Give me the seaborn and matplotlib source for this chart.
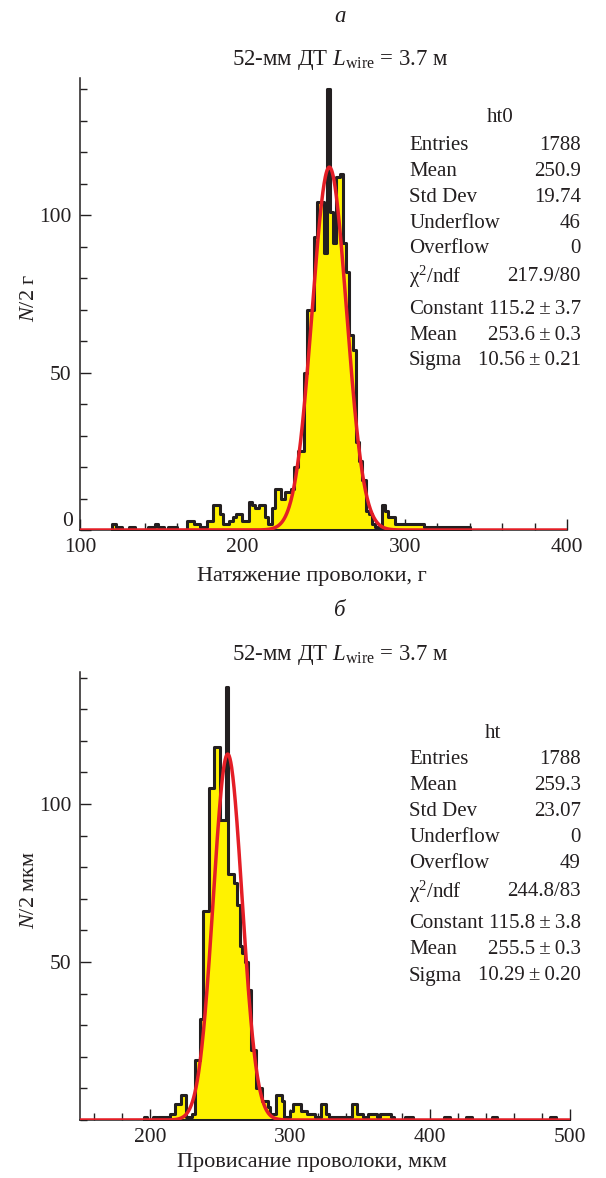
import numpy as np
import pandas as pd
import matplotlib
matplotlib.use("Agg")
import matplotlib.pyplot as plt
import seaborn as sns
from matplotlib.ticker import MultipleLocator, FixedLocator, FixedFormatter

# ---------------- data ----------------
bin_width = 2

top_start = 120
top_counts = [2, 1, 1, 0, 0, 1, 1, 0, 0, 0,
              0, 1, 1, 2, 1, 1, 0, 1, 1, 1,
              0, 0, 0, 3, 3, 2, 2, 1, 1, 3,
              3, 8, 8, 5, 2, 2, 3, 4, 5, 5,
              3, 3, 9, 8, 7, 8, 8, 4, 2, 7,
              13, 13, 10, 12, 12, 13, 20, 25, 25, 50,
              70, 70, 93, 104, 104, 88, 140, 101, 91, 112,
              113, 91, 82, 62, 57, 28, 22, 16, 6, 5,
              2, 1, 1, 8, 6, 4, 4, 2, 2, 2,
              2, 2, 2, 2, 2, 2, 1, 1, 1, 1,
              1, 1, 1, 1, 1, 1, 1, 1, 1, 1]

bot_start = 196
bot_counts = [1, 0, 0, 1, 0, 1, 1, 1, 1, 2,
              2, 5, 5, 8, 8, 1, 1, 2, 19, 19,
              32, 66, 66, 105, 105, 118, 118, 95, 95, 137,
              78, 78, 75, 68, 55, 53, 50, 41, 22, 22,
              10, 10, 6, 6, 4, 2, 2, 8, 8, 6,
              1, 1, 3, 5, 5, 5, 3, 3, 2, 2,
              2, 1, 1, 5, 5, 2, 1, 1, 1, 1,
              1, 1, 1, 1, 5, 5, 2, 2, 1, 0,
              2, 2, 2, 1, 2, 2, 2, 2, 1, 0,
              0, 0, 0, 1, 1, 1, 0, 0, 0, 0,
              0, 0, 0, 0, 0, 0, 0, 1, 1, 0,
              0, 0, 0, 0, 0, 1, 1, 0, 0, 0,
              0, 0, 0, 0, 1, 1, 0, 0, 0, 0,
              0, 0, 0, 0, 0, 0, 0, 0, 0, 0,
              0, 0, 0, 0, 0, 1, 1, 0, 0, 0,
              0, 0]

# Gaussian fit parameters (Constant, Mean, Sigma)
top_fit = [115.2, 253.6, 10.56]
bot_fit = [115.8, 255.5, 10.29]

stat_labels = ["Entries", "Mean", "Std Dev", "Underflow", "Overflow",
               "χ$^{2}$/ndf", "Constant", "Mean", "Sigma"]
top_stat_values = ["1788", "250.9", "19.74", "46", "0", "217.9/80",
                   "115.2\u2009±\u20093.7", "253.6\u2009±\u20090.3",
                   "10.56\u2009±\u20090.21"]
bot_stat_values = ["1788", "259.3", "23.07", "0", "49", "244.8/83",
                   "115.8\u2009±\u20093.8", "255.5\u2009±\u20090.3",
                   "10.29\u2009±\u20090.20"]

top_xticks = [100, 200, 300, 400]
bot_xticks = [200, 300, 400, 500]
top_yticks = [0, 50, 100]
top_yticklabels = ["", "50", "100"]
bot_yticks = [50, 100]
bot_yticklabels = ["50", "100"]

# ---------------- style ----------------
sns.set_style("ticks")
plt.rcParams["font.family"] = ["Liberation Serif", "DejaVu Serif"]
plt.rcParams["mathtext.fontset"] = "custom"
plt.rcParams["mathtext.rm"] = "Liberation Serif"
plt.rcParams["mathtext.it"] = "Liberation Serif:italic"
plt.rcParams["mathtext.bf"] = "Liberation Serif:bold"

W, H = 606, 1178
fig = plt.figure(figsize=(W / 100, H / 100), dpi=100)
fig.patch.set_facecolor("white")

FS_STAT = 15
FS_TICK = 15.5
FS_LAB = 16
FS_TITLE = 16.5
YELLOW = "#FFF200"
BLACK = "#231F20"
RED = "#E41E26"


def px(x, y):
    return x / W, 1 - y / H


def axes_px(x0, y0, x1, y1):
    return fig.add_axes([x0 / W, 1 - y1 / H, (x1 - x0) / W, (y1 - y0) / H])


def panel(ax, start, counts, fit, xlim, ylim, xticks, yticks, yticklabels):
    counts = [float(c) for c in counts]
    edges = [start + bin_width * i for i in range(len(counts) + 1)]
    centers = [e + bin_width / 2 for e in edges[:-1]]
    df = pd.DataFrame({"x": centers, "w": counts})
    sns.histplot(data=df, x="x", weights="w", bins=edges, element="step",
                 fill=True, color=YELLOW, edgecolor=BLACK, linewidth=2.2,
                 alpha=1, ax=ax, zorder=2)
    xs = np.linspace(xlim[0], xlim[1], 1200)
    c, m, s = fit
    fdf = pd.DataFrame({"x": xs, "y": c * np.exp(-0.5 * ((xs - m) / s) ** 2)})
    sns.lineplot(data=fdf, x="x", y="y", color=RED, linewidth=2.5, ax=ax,
                 zorder=3)
    ax.set_xlim(*xlim)
    ax.set_ylim(*ylim)
    ax.set_xlabel("")
    ax.set_ylabel("")
    ax.xaxis.set_major_locator(FixedLocator(xticks))
    ax.xaxis.set_minor_locator(MultipleLocator(20))
    ax.yaxis.set_major_locator(FixedLocator(yticks))
    ax.yaxis.set_major_formatter(FixedFormatter(yticklabels))
    ax.yaxis.set_minor_locator(MultipleLocator(10))
    ax.tick_params(which="major", direction="in", length=8, width=1,
                   labelsize=FS_TICK, colors=BLACK, pad=6)
    ax.tick_params(which="minor", direction="in", length=5, width=1,
                   colors=BLACK)
    for sp in ["top", "right"]:
        ax.spines[sp].set_visible(False)
    for sp in ["left", "bottom"]:
        ax.spines[sp].set_color(BLACK)
        ax.spines[sp].set_linewidth(1.1)
    ax.set_facecolor("white")


def stats(name, xname, y0, values):
    fig.text(*px(xname, y0), name, ha="center", va="center",
             fontsize=FS_STAT, color=BLACK)
    ys = [y0 + 27 + 26 * i for i in range(5)] + \
         [y0 + 27 + 26 * 5 + 2, y0 + 27 + 26 * 6 + 8,
          y0 + 27 + 26 * 7 + 8, y0 + 27 + 26 * 8 + 8]
    for lab, val, y in zip(stat_labels, values, ys):
        fig.text(*px(409, y), lab, ha="left", va="center", fontsize=FS_STAT,
                 color=BLACK)
        fig.text(*px(581, y), val, ha="right", va="center",
                 fontsize=FS_STAT, color=BLACK)


# ---------------- top panel ----------------
ax1 = axes_px(80, 78, 567, 530)
panel(ax1, top_start, top_counts, top_fit, (100, 400),
      (0, (530 - 78) / 3.15), top_xticks, top_yticks, top_yticklabels)
fig.text(*px(68, 521), "0", ha="center", va="center", fontsize=FS_TICK,
         color=BLACK)
fig.text(*px(340, 16), "а", style="italic", ha="center", va="center",
         fontsize=FS_TITLE, color=BLACK)
fig.text(*px(340, 60), r"52-мм ДТ $L_{\mathrm{wire}}$ = 3.7 м", ha="center",
         va="center", fontsize=FS_TITLE, color=BLACK)
fig.text(*px(30, 298), r"$N$/2 г", rotation=90, ha="center", va="center",
         fontsize=FS_LAB, color=BLACK)
fig.text(*px(312, 577), "Натяжение проволоки, г", ha="center", va="center",
         fontsize=FS_LAB, color=BLACK)
stats("ht0", 500, 118, top_stat_values)

# ---------------- bottom panel ----------------
ax2 = axes_px(80, 672, 570, 1120)
panel(ax2, bot_start, bot_counts, bot_fit, (150, 500),
      (0, (1120 - 672) / 3.16), bot_xticks, bot_yticks, bot_yticklabels)
fig.text(*px(340, 610), "б", style="italic", ha="center", va="center",
         fontsize=FS_TITLE, color=BLACK)
fig.text(*px(340, 655), r"52-мм ДТ $L_{\mathrm{wire}}$ = 3.7 м", ha="center",
         va="center", fontsize=FS_TITLE, color=BLACK)
fig.text(*px(30, 890), r"$N$/2 мкм", rotation=90, ha="center", va="center",
         fontsize=FS_LAB, color=BLACK)
fig.text(*px(312, 1163), "Провисание проволоки, мкм", ha="center",
         va="center", fontsize=FS_LAB, color=BLACK)
stats("ht", 493, 733, bot_stat_values)

fig.savefig("out.png", dpi=100, facecolor="white")
